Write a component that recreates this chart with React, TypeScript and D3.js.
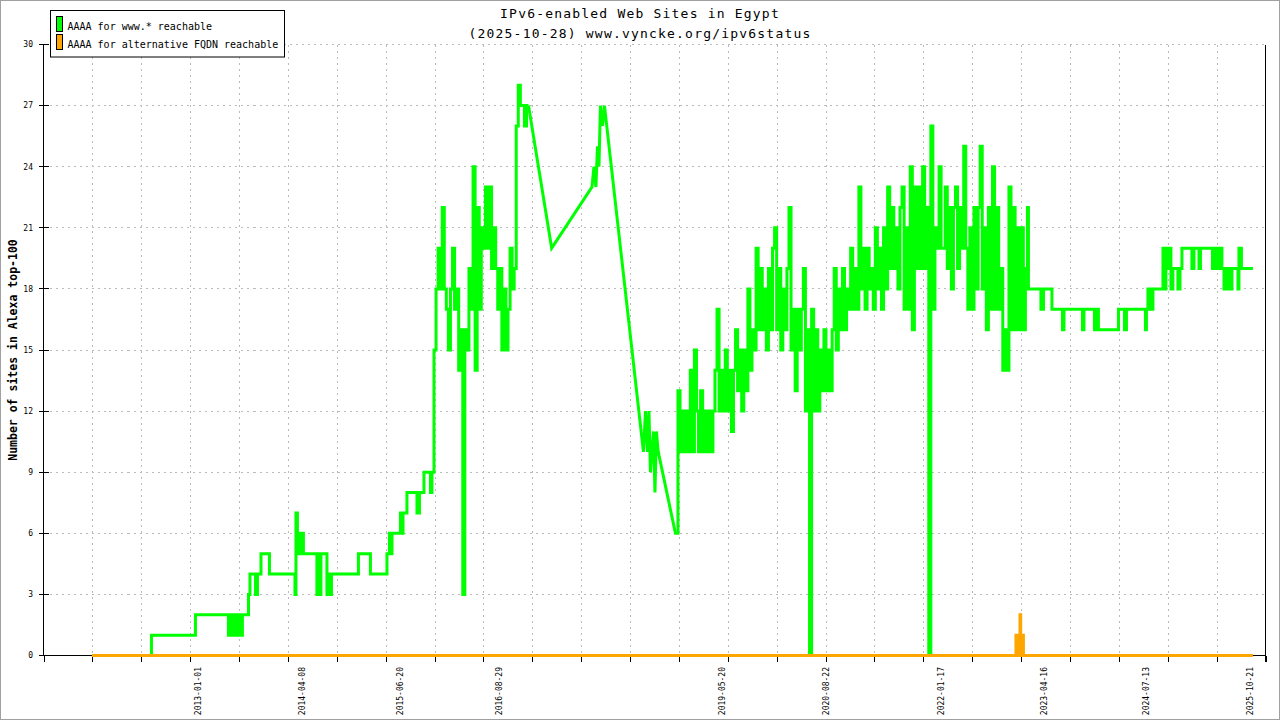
import { useEffect, useRef } from "react"
import * as d3 from "d3"

type Pt = [number, number]

// x values are decimal years, y values are number of sites

// www.* reachable, 2011 - 2015 (step changes)
const wwwEarly: Pt[] = [
  [2011.707, 0], [2012.419, 0], [2012.431, 1], [2012.948, 1], [2012.966, 2], [2013.361, 2],
  [2013.367, 1], [2013.386, 1], [2013.392, 2], [2013.422, 2], [2013.428, 1], [2013.446, 2],
  [2013.459, 1], [2013.465, 2], [2013.489, 2], [2013.495, 1], [2013.513, 2], [2013.525, 1],
  [2013.537, 2], [2013.598, 2], [2013.611, 3], [2013.629, 4], [2013.69, 4], [2013.696, 3],
  [2013.714, 3], [2013.72, 4], [2013.756, 4], [2013.763, 5], [2013.86, 5], [2013.866, 4],
  [2014.164, 4], [2014.176, 3], [2014.188, 7], [2014.206, 5], [2014.219, 6], [2014.237, 5],
  [2014.249, 6], [2014.273, 6], [2014.279, 5], [2014.437, 5], [2014.443, 3], [2014.462, 3],
  [2014.468, 5], [2014.486, 3], [2014.492, 5], [2014.559, 5], [2014.565, 3], [2014.583, 4],
  [2014.596, 3], [2014.62, 4], [2014.942, 4], [2014.948, 5], [2015.088, 5], [2015.094, 4],
  [2015.289, 4], [2015.295, 5], [2015.319, 5], [2015.325, 6], [2015.343, 5], [2015.356, 6],
  [2015.453, 6], [2015.459, 7], [2015.477, 6], [2015.49, 7], [2015.526, 7], [2015.538, 8],
  [2015.654, 8], [2015.66, 7], [2015.684, 7], [2015.69, 8], [2015.733, 8], [2015.745, 9],
  [2015.818, 9], [2015.824, 8], [2015.842, 9],
]

// samples every SAMPLE_STEP years
const SAMPLE_STEP = 0.025

const www2016Start = 2015.867
const www2016 = [
  15, 18, 20, 18, 22, 18, 17, 15, 18, 20, 17, 18, 14, 16, 3, 16, 15, 19, 17, 24,
  14, 22, 17, 21, 20, 23, 20, 23, 19, 21, 19, 17, 19, 15, 18, 15, 17, 20, 18, 19,
  26, 28, 27, 27, 26, 27,
]

// sparse measurements 2017 - 2018
const wwwBridge: Pt[] = [
  [2017.016, 27], [2017.298, 20], [2017.788, 23], [2017.812, 24], [2017.836, 23],
  [2017.855, 25], [2017.873, 24], [2017.891, 27], [2017.916, 26], [2017.94, 27],
  [2018.414, 10], [2018.439, 12], [2018.463, 10], [2018.481, 12], [2018.499, 9],
  [2018.518, 10], [2018.536, 11], [2018.554, 8], [2018.572, 11], [2018.594, 10],
  [2018.803, 6],
]

const www2019Start = 2018.809
const www2019 = [
  6, 13, 10, 12, 10, 12, 10, 14, 10, 15,
  12, 10, 13, 10, 12, 10, 12, 10, 12, 14,
  17, 12, 14, 12, 15, 12, 14, 11, 14, 16,
  13, 15, 12, 15, 13, 18, 14, 16, 15, 20,
  16, 19, 16, 18, 15, 19, 16, 20, 21, 16,
  19, 15, 18, 16, 19, 22, 15, 17, 13, 17,
  15, 17, 19, 12, 16, 0, 17, 12, 16, 12,
  15, 13, 16, 13, 15, 13, 16, 19, 15, 18,
  16, 19, 16, 18, 17, 20, 17, 19, 17, 23,
  18, 20, 17, 20, 18, 19, 17, 21, 18, 20,
  17, 21, 18, 23, 19, 22, 19, 21, 18, 22,
  23, 17, 21, 17, 24, 16, 23, 19, 23, 19,
  24, 19, 22, 0, 26, 17, 21, 20, 24, 20,
  20, 23, 19, 22, 18, 22, 23, 19, 22, 20,
  25, 20, 17, 21, 17, 22, 18, 22, 25, 18,
  21, 16, 22, 17, 24, 17, 22, 17, 19, 14,
  16, 14, 23, 16, 22, 16, 21, 16, 21, 16,
  19, 22,
]

// 2023 - 2025 (step changes)
const wwwLate: Pt[] = [
  [2023.096, 18], [2023.242, 18], [2023.248, 17], [2023.273, 17], [2023.279, 18], [2023.376, 18],
  [2023.382, 17], [2023.503, 17], [2023.51, 16], [2023.522, 16], [2023.528, 17], [2023.747, 17],
  [2023.753, 16], [2023.765, 16], [2023.771, 17], [2023.893, 17], [2023.899, 16], [2023.917, 16],
  [2023.923, 17], [2023.941, 17], [2023.947, 16], [2024.185, 16], [2024.191, 17], [2024.258, 17],
  [2024.264, 16], [2024.282, 16], [2024.288, 17], [2024.513, 17], [2024.519, 16], [2024.531, 17],
  [2024.549, 18], [2024.561, 17], [2024.58, 18], [2024.592, 17], [2024.61, 18], [2024.719, 18],
  [2024.732, 20], [2024.756, 18], [2024.768, 20], [2024.793, 19], [2024.817, 20], [2024.829, 18],
  [2024.853, 19], [2024.914, 18], [2024.939, 19], [2024.963, 20], [2025.072, 20], [2025.084, 19],
  [2025.109, 20], [2025.157, 20], [2025.17, 19], [2025.188, 20], [2025.322, 20], [2025.334, 19],
  [2025.352, 20], [2025.376, 19], [2025.401, 20], [2025.413, 19], [2025.437, 20], [2025.449, 19],
  [2025.474, 18], [2025.498, 19], [2025.51, 18], [2025.535, 19], [2025.559, 18], [2025.571, 19],
  [2025.638, 19], [2025.644, 18], [2025.656, 20], [2025.68, 20], [2025.686, 19], [2025.826, 19],
]

// alternative FQDN reachable
const altFqdn: Pt[] = [
  [2011.707, 0], [2022.944, 1], [2022.956, 0], [2022.962, 1], [2022.968, 0], [2022.975, 1],
  [2022.981, 0], [2022.987, 1], [2022.993, 2], [2023.002, 1], [2023.011, 0], [2023.017, 1],
  [2023.023, 0], [2023.029, 1], [2023.035, 0], [2025.826, 0],
]

const dateLabels = [
  "2013-01-01", "2014-04-08", "2015-06-20", "2016-08-29", "2019-05-20",
  "2020-08-22", "2022-01-17", "2023-04-16", "2024-07-13", "2025-10-21",
]
const yTicks = [0, 3, 6, 9, 12, 15, 18, 21, 24, 27, 30]
const xDomain = [2011.118, 2025.979]
const xTickIntervals = 25

const legendItems = [
  { label: "AAAA for www.* reachable", color: "#00ff00" },
  { label: "AAAA for alternative FQDN reachable", color: "#ffa500" },
]

const MONO = "'DejaVu Sans Mono', monospace"

const sampled = (start: number, vals: number[]): Pt[] =>
  vals.map((v, i) => [start + i * SAMPLE_STEP, v])

const toYear = (s: string) =>
  2013 + (Date.parse(s) - Date.parse("2013-01-01")) / (365.25 * 864e5)

export default function App() {
  const svgRef = useRef<SVGSVGElement>(null)

  useEffect(() => {
    if (!svgRef.current) return
    document.body.style.margin = "0"

    const svg = d3.select(svgRef.current)
    svg.selectAll("*").remove()

    const width = 1280
    const height = 720
    const left = 43.5
    const right = 1265.5
    const top = 44.5
    const bottom = 655.5

    const x = d3.scaleLinear().domain(xDomain).range([left, right])
    const y = d3.scaleLinear().domain([0, 30]).range([bottom, top])

    svg.append("rect").attr("width", width).attr("height", height).attr("fill", "#fff")
    svg
      .append("rect")
      .attr("x", 0.5)
      .attr("y", 0.5)
      .attr("width", width - 1)
      .attr("height", height - 1)
      .attr("fill", "none")
      .attr("stroke", "#a0a0a0")

    const xTicks = d3.range(xTickIntervals + 1).map(
      (i) => xDomain[0] + (i * (xDomain[1] - xDomain[0])) / xTickIntervals,
    )

    // grid
    const grid = svg.append("g").attr("stroke", "#bbb").attr("stroke-dasharray", "2,4").attr("shape-rendering", "crispEdges")
    yTicks.filter((t) => t > 0).forEach((t) => {
      grid.append("line").attr("x1", left).attr("x2", right).attr("y1", y(t)).attr("y2", y(t))
    })
    xTicks.slice(1, -1).forEach((t) => {
      const px = Math.round(x(t)) + 0.5
      grid.append("line").attr("x1", px).attr("x2", px).attr("y1", top).attr("y2", bottom)
    })

    // axes
    const axes = svg.append("g").attr("stroke", "#000").attr("shape-rendering", "crispEdges")
    axes.append("line").attr("x1", left).attr("x2", left).attr("y1", top).attr("y2", bottom)
    axes.append("line").attr("x1", right).attr("x2", right).attr("y1", top).attr("y2", bottom + 6)
    axes.append("line").attr("x1", left).attr("x2", right).attr("y1", bottom).attr("y2", bottom)

    yTicks.forEach((t) => {
      axes.append("line").attr("x1", left - 5).attr("x2", left + 5).attr("y1", y(t)).attr("y2", y(t))
      svg
        .append("text")
        .attr("x", 33)
        .attr("y", y(t))
        .attr("dy", "0.35em")
        .attr("text-anchor", "end")
        .attr("font-family", MONO)
        .attr("font-size", 8)
        .text(t)
    })

    xTicks.forEach((t) => {
      const px = Math.round(x(t)) + 0.5
      axes.append("line").attr("x1", px).attr("x2", px).attr("y1", bottom).attr("y2", bottom + 6)
    })

    dateLabels.forEach((d) => {
      svg
        .append("text")
        .attr("transform", `translate(${x(toYear(d))},667) rotate(-90)`)
        .attr("text-anchor", "end")
        .attr("dominant-baseline", "central")
        .attr("font-family", MONO)
        .attr("font-size", 8)
        .text(d)
    })

    // series: daily readings as steps, sparse stretches as straight lines
    const stepLine = d3
      .line<Pt>()
      .curve(d3.curveStepAfter)
      .x((d) => x(d[0]))
      .y((d) => y(d[1]))
    const straightLine = d3
      .line<Pt>()
      .x((d) => x(d[0]))
      .y((d) => y(d[1]))

    const dense2016 = sampled(www2016Start, www2016)
    const dense2019 = sampled(www2019Start, www2019)
    const greenParts: [Pt[], d3.Line<Pt>][] = [
      [[...wwwEarly, ...dense2016, wwwBridge[0]], stepLine],
      [[...wwwBridge, dense2019[0]], straightLine],
      [[...dense2019, ...wwwLate], stepLine],
    ]

    const seriesG = svg.append("g").attr("fill", "none").attr("stroke-width", 3).attr("stroke-linejoin", "miter")
    greenParts.forEach(([data, gen]) => {
      seriesG.append("path").datum(data).attr("stroke", "#00ff00").attr("d", gen)
    })
    seriesG.append("path").datum(altFqdn).attr("stroke", "#ffa500").attr("d", stepLine)

    // y axis title
    svg
      .append("text")
      .attr("transform", "translate(17,350) rotate(-90)")
      .attr("text-anchor", "middle")
      .attr("font-family", MONO)
      .attr("font-weight", "bold")
      .attr("font-size", 11.5)
      .text("Number of sites in Alexa top-100")

    // title
    const titles = ["IPv6-enabled Web Sites in Egypt", "(2025-10-28) www.vyncke.org/ipv6status"]
    titles.forEach((t, i) => {
      svg
        .append("text")
        .attr("x", 640)
        .attr("y", 18 + i * 20)
        .attr("text-anchor", "middle")
        .attr("font-family", MONO)
        .attr("font-size", 13)
        .attr("letter-spacing", 1.2)
        .text(t)
    })

    // legend
    const legend = svg.append("g")
    legend
      .append("rect")
      .attr("x", 50.5)
      .attr("y", 10.5)
      .attr("width", 234)
      .attr("height", 46.5)
      .attr("fill", "#fff")
      .attr("stroke", "#000")

    legendItems.forEach((d, i) => {
      legend
        .append("rect")
        .attr("x", 56.5)
        .attr("y", 16.5 + i * 18)
        .attr("width", 6)
        .attr("height", 15)
        .attr("fill", d.color)
        .attr("stroke", "#000")
        .attr("shape-rendering", "crispEdges")
      legend
        .append("text")
        .attr("x", 67.5)
        .attr("y", 30 + i * 18)
        .attr("font-family", MONO)
        .attr("font-size", 10)
        .text(d.label)
    })

    svg.attr("width", width).attr("height", height).attr("viewBox", [0, 0, width, height])
  }, [])

  return <svg ref={svgRef} style={{ display: "block" }}></svg>
}
